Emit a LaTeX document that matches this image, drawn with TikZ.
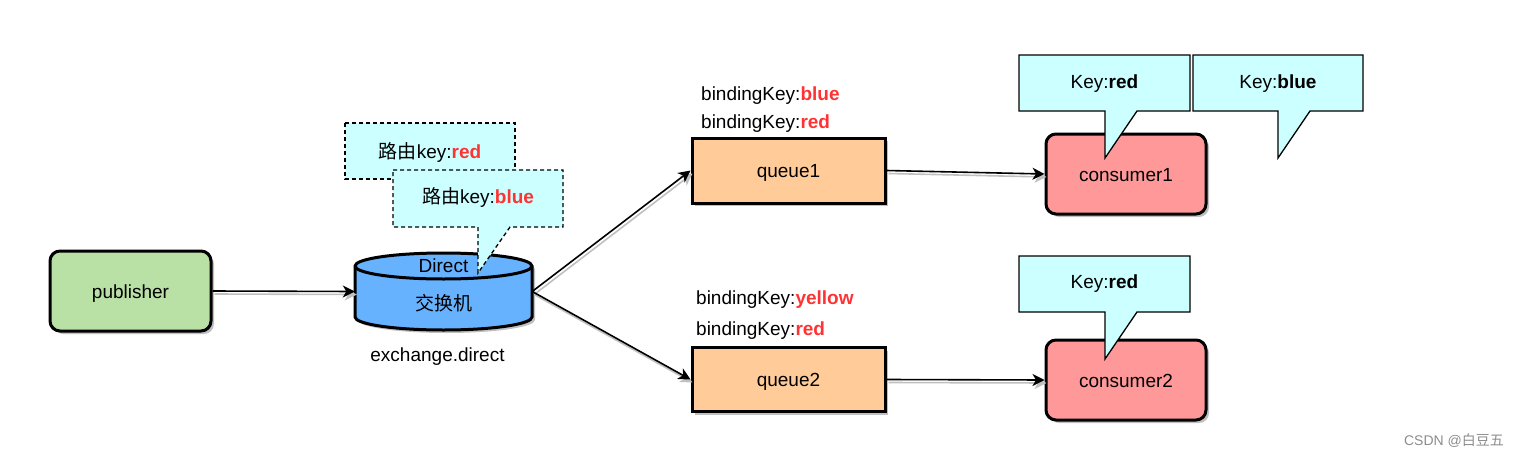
\documentclass[tikz,border=0pt]{standalone}
\usepackage{fontspec}
\setmainfont{Liberation Sans}
\newfontfamily\cjk{Noto Sans CJK SC}
\usetikzlibrary{arrows.meta,shadows}
\definecolor{pubgreen}{HTML}{B9E0A5}
\definecolor{exblue}{HTML}{66B2FF}
\definecolor{queueor}{HTML}{FFCC99}
\definecolor{consred}{HTML}{FF9999}
\definecolor{callcyan}{HTML}{CCFFFF}
\definecolor{keyred}{HTML}{FF3333}
\definecolor{shadowgrey}{HTML}{C0C0C0}
\begin{document}
\begin{tikzpicture}[x=1pt,y=-1pt,font=\fontsize{19}{23}\selectfont,
  tline/.style={text height=17.2pt,text depth=3.2pt},
  boxshadow/.style={drop shadow={shadow xshift=3pt,shadow yshift=-3pt,fill=shadowgrey,opacity=1}},
  roundbox/.style={draw,line width=3pt,rounded corners=10pt,minimum width=161pt,minimum height=80pt,inner sep=0pt,tline,boxshadow},
  queuebox/.style={draw,line width=3pt,fill=queueor,minimum width=193pt,minimum height=65pt,inner sep=0pt,tline,boxshadow},
  conn/.style={line width=1.6pt,-{Stealth[length=12pt,width=12pt,inset=3.5pt]}},
  connshadow/.style={line width=1.6pt,draw=shadowgrey,-{Stealth[length=12pt,width=12pt,inset=3.5pt,fill=shadowgrey]}},
  callout/.style={draw,fill=callcyan,line width=1.3pt,line join=miter},
  dcallout/.style={callout,dash pattern=on 4pt off 3pt},
  txt/.style={inner sep=0pt,tline},
  keytxt/.style={inner sep=0pt,tline,anchor=west}]
\useasboundingbox (0,0) rectangle (1519,458);

% publisher
\node[roundbox,fill=pubgreen] (pub) at (130.5,291) {publisher};

% exchange cylinder
\node[minimum width=177pt,minimum height=77pt,inner sep=0pt] (ex) at (443.5,291.5) {};
\fill[shadowgrey] (358,269) -- (358,320) arc(180:0:88.5 and 13) -- (535,269) arc(0:-180:88.5 and 13) -- cycle;
\filldraw[fill=exblue,line width=3pt] (355,266) -- (355,317) arc(180:0:88.5 and 13) -- (532,266) arc(0:-180:88.5 and 13) -- cycle;
\draw[line width=3pt] (355,266) arc(180:0:88.5 and 13);
\node[txt] (direct) at (443.5,265.7) {Direct};
\node[txt] (jhj) at (443.5,303) {\cjk 交换机};
\node[txt] (exname) at (437.5,354.7) {exchange.direct};

% queues
\node[queuebox] (q1) at (788.5,170.5) {queue1};
\node[queuebox,minimum height=64pt] (q2) at (788.5,379.5) {queue2};

% consumers
\node[roundbox,fill=consred,minimum width=160pt] (c1) at (1126,174) {consumer1};
\node[roundbox,fill=consred,minimum width=160pt] (c2) at (1126,380) {consumer2};

% connectors (shadows first)
\draw[connshadow] ([shift={(2,3)}]pub.east) -- ([shift={(2,3)}]ex.west);
\draw[connshadow] ([shift={(2,3)}]ex.east) -- ([shift={(2,3)}]q1.west);
\draw[connshadow] ([shift={(2,3)}]ex.east) -- ([shift={(2,3)}]q2.west);
\draw[connshadow] ([shift={(2,3)}]q1.east) -- ([shift={(2,3)}]c1.west);
\draw[connshadow] ([shift={(2,3)}]q2.east) -- ([shift={(2,3)}]c2.west);
\draw[conn] (pub.east) -- (ex.west);
\draw[conn] (ex.east) -- (q1.west);
\draw[conn] (ex.east) -- (q2.west);
\draw[conn] (q1.east) -- (c1.west);
\draw[conn] (q2.east) -- (c2.west);

% binding keys
\node[keytxt] (bk1) at (701,93.7) {bindingKey:\textbf{\color{keyred}blue}};
\node[keytxt] (bk2) at (701,121.3) {bindingKey:\textbf{\color{keyred}red}};
\node[keytxt] (bk3) at (696,297) {bindingKey:\textbf{\color{keyred}yellow}};
\node[keytxt] (bk4) at (696,328) {bindingKey:\textbf{\color{keyred}red}};

% routing key callouts (dashed)
\path[dcallout] (345,123) rectangle (515,179);
\node[txt] (rk1) at (430,151.3) {{\cjk 路由}key:\textbf{\color{keyred}red}};
\path[dcallout] (393,170) -- (563,170) -- (563,227) -- (510,227) -- (478,273) -- (478,227) -- (393,227) -- cycle;
\node[txt] (rk2) at (478,196.3) {{\cjk 路由}key:\textbf{\color{keyred}blue}};

% consumer key callouts
\path[callout] (1019,55) -- (1190,55) -- (1190,111) -- (1137,111) -- (1105,158) -- (1105,111) -- (1019,111) -- cycle;
\node[txt] (k1) at (1104.5,81.3) {Key:\textbf{red}};
\path[callout] (1193,55) -- (1363,55) -- (1363,111) -- (1310,111) -- (1278,158) -- (1278,111) -- (1193,111) -- cycle;
\node[txt] (k2) at (1278,81.3) {Key:\textbf{blue}};
\path[callout] (1019,256) -- (1190,256) -- (1190,312) -- (1137,312) -- (1105,359) -- (1105,312) -- (1019,312) -- cycle;
\node[txt] (k3) at (1104.5,281.3) {Key:\textbf{red}};

% watermark
\node[inner sep=0pt,text=black!45,font=\fontsize{14}{16}\selectfont] (wm) at (1454,441) {CSDN @{\cjk 白豆五}};
\end{tikzpicture}
\end{document}
